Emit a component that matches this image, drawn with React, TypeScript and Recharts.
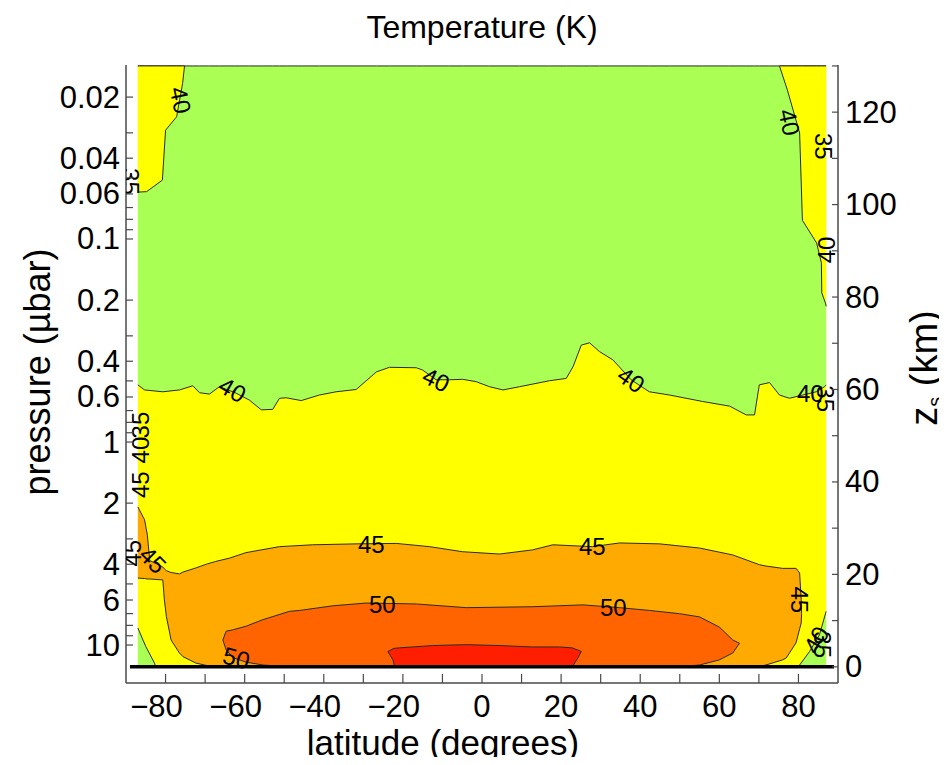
import React from 'react';
import { ComposedChart, Area, Line, Scatter, XAxis, YAxis } from 'recharts';

const FONT = '"Liberation Sans", Arial, Helvetica, sans-serif';
const FRAME = '#4a4a4a';
const CONTOUR = '#2a2a2a';

// axis ticks
const latTicks = [-80, -70, -60, -50, -40, -30, -20, -10, 0, 10, 20, 30, 40, 50, 60, 70, 80];
const latLabels = [-80, -60, -40, -20, 0, 20, 40, 60, 80];
const zTicks = [0, 10, 20, 30, 40, 50, 60, 70, 80, 90, 100, 110, 120, 130];
const zLabels = [0, 20, 40, 60, 80, 100, 120];
const pTicks = [0.02, 0.03, 0.04, 0.05, 0.06, 0.07, 0.08, 0.09, 0.1, 0.2, 0.3, 0.4, 0.5, 0.6, 0.7, 0.8, 0.9, 1, 2, 3, 4, 5, 6, 7, 8, 9, 10];
const pLabels = [0.02, 0.04, 0.06, 0.1, 0.2, 0.4, 0.6, 1, 2, 4, 6, 10];

// region tables: [latitude, lower z (km), upper z (km)]
const fullField = [
  [-87, 0, 130],
  [87, 0, 130],
];

// T < 40 K (upper atmosphere)
const below40 = [
  [-87.0, 61.0, 130], [-85.3, 59.9, 130], [-80.7, 59.5, 130], [-76.5, 59.9, 130], [-73.1, 60.8, 130],
  [-71.4, 59.3, 130], [-68.9, 59.0, 130], [-66.4, 60.6, 130], [-62.4, 59.3, 130], [-58.8, 57.7, 130],
  [-55.8, 55.6, 130], [-52.9, 55.7, 130], [-51.2, 58.1, 130], [-49.5, 58.2, 130], [-45.7, 57.6, 130],
  [-41.1, 58.8, 130], [-36.9, 59.5, 130], [-31.8, 60.0, 130], [-26.7, 63.8, 130], [-23.4, 64.8, 130],
  [-16.6, 64.7, 130], [-15.0, 64.2, 130], [-11.6, 62.1, 130], [-8.2, 62.1, 130], [-4.9, 62.2, 130],
  [-1.5, 61.7, 130], [1.9, 60.6, 130], [5.3, 59.9, 130], [9.5, 60.6, 130], [17.1, 61.9, 130],
  [21.3, 62.4, 130], [23.0, 64.9, 130], [25.1, 69.6, 130], [27.2, 70.1, 130], [29.7, 68.2, 130],
  [33.1, 66.4, 130], [37.7, 62.1, 130], [42.3, 59.5, 130], [47.4, 58.8, 130], [55.8, 57.4, 130],
  [62.6, 56.4, 130], [66.8, 54.5, 130], [68.9, 54.5, 130], [70.1, 61.0, 130], [72.7, 61.5, 130],
  [75.2, 58.8, 130], [77.7, 58.1, 130], [81.1, 58.8, 130], [84.5, 59.5, 130], [86.6, 60.6, 130],
  [87.0, 61.0, 130],
];

// 40-45 K corners at the top
const warmCornerWest = [
  [-87.0, 102.7, 130], [-84.8, 102.8, 130], [-80.8, 105.3, 130], [-80.0, 116.1, 130],
  [-77.2, 119.0, 130], [-75.7, 126.2, 130], [-75.2, 130, 130],
];
const warmCornerEast = [
  [75.2, 130, 130], [77.2, 124.8, 130], [80.3, 115.5, 130], [81.0, 96.6, 130],
  [84.6, 91.7, 130], [85.8, 87.4, 130], [85.9, 80.9, 130], [86.9, 78.5, 130], [87.0, 78.0, 130],
];

// 45-50 K
const band45 = [
  [-87.0, 19.2, 34.6], [-85.3, 19.1, 31.8], [-84.6, 19.0, 28.5], [-84.0, 19.0, 23.0],
  [-80.7, 18.8, 21.6], [-80.3, 14.5, 21.2], [-79.8, 10.9, 20.8], [-78.6, 5.8, 20.4],
  [-76.5, 3.0, 20.1], [-75.6, 2.2, 20.5], [-72.3, 0.8, 21.4], [-69.7, 0.3, 22.2],
  [-67.3, 0, 22.8], [-63.9, 0, 23.5], [-59.7, 0, 24.7], [-51.2, 0, 26.0], [-42.8, 0, 26.4],
  [-31.8, 0, 26.6], [-21.7, 0, 26.7], [-13.3, 0, 26.0], [-4.9, 0, 24.9], [4.4, 0, 24.4],
  [12.8, 0, 25.3], [17.9, 0, 26.4], [27.9, 0, 26.0], [34.8, 0, 26.8], [44.9, 0, 26.6],
  [55.0, 0, 25.7], [63.4, 0, 24.2], [70.1, 0.1, 22.1], [71.8, 0.4, 21.8], [76.0, 1.5, 21.3],
  [76.9, 1.9, 21.3], [79.4, 5.2, 21.3], [80.3, 8.2, 20.3], [80.7, 9.5, 14.5], [80.8, 11.5, 11.5],
];

// 50-55 K
const band50 = [
  [-65.5, 5.8, 5.8], [-64.7, 3.7, 7.7], [-63.0, 2.0, 8.0], [-59.6, 1.0, 8.8], [-55.4, 0.4, 10.2],
  [-48.7, 0, 12.0], [-46.1, 0, 12.2], [-37.7, 0, 13.2], [-29.3, 0, 13.8], [-16.6, 0, 13.6],
  [-4.0, 0, 12.8], [12.8, 0, 13.0], [25.5, 0, 13.4], [34.8, 0, 12.8], [42.3, 0, 12.2],
  [49.9, 0, 11.5], [55.0, 0.4, 10.8], [60.0, 1.5, 8.6], [63.4, 3.0, 5.8], [65.1, 5.1, 5.1],
];

// > 55 K
const band55 = [
  [-23.8, 3.3, 3.3], [-22.5, 1.5, 3.9], [-22.1, 0, 4.0], [-20.9, 0, 4.1], [-12.5, 0, 4.6],
  [-4.0, 0, 4.8], [4.4, 0, 4.6], [12.8, 0, 4.3], [19.6, 0, 4.3], [22.8, 0, 4.1],
  [24.3, 2.0, 3.6], [25.1, 3.3, 3.3],
];

// cold spots near the surface at the poles (< 40 K)
const coldSouth = [[-87.0, 0, 8.4], [-85.0, 0, 4.4], [-82.8, 0, 0.8], [-82.5, 0, 0]];
const coldNorth = [[80.1, 0, 0], [80.3, 0, 0.4], [82.8, 0, 3.3], [85.3, 0, 6.9], [87.0, 0, 12.0]];

const surface = [
  { lat: -89, z: 0 },
  { lat: 89, z: 0 },
];

// contour labels: [latitude, z, text, rotation]
const contourLabels: [number, number, string, number][] = [
  [-76.2, 122.6, '40', 78], [-88.9, 105.0, '35', 90], [77.7, 117.8, '40', 78], [86.3, 112.6, '35', 90],
  [87.0, 90.2, '40', -90], [-63.1, 59.9, '40', 30], [-11.6, 62.1, '40', 25], [37.7, 62.1, '40', 35],
  [83.0, 59.2, '40', 0], [86.8, 58.0, '35', 90], [-86.3, 52.3, '35', -90], [-86.3, 46.9, '40', -90],
  [-86.3, 39.4, '45', -90], [-88.3, 24.6, '45', -90], [-83.2, 23.1, '45', 45], [-28.0, 26.4, '45', 0],
  [27.9, 26.0, '45', 0], [-25.2, 13.4, '50', 0], [33.2, 12.8, '50', 0], [-62.1, 1.9, '50', 15],
  [80.3, 14.5, '45', 90], [84.5, 5.8, '40', -60], [86.1, 4.8, '35', 90],
];

const toRange = (rows: number[][]) => rows.map(([lat, lo, hi]) => ({ lat, r: [lo, hi] }));
const labelData = contourLabels.map(([lat, z, text, angle]) => ({ lat, z, text, angle }));

const regions: { rows: number[][]; fill: string; stroke: string }[] = [
  { rows: fullField, fill: '#ffff00', stroke: 'none' },
  { rows: below40, fill: '#aaff55', stroke: CONTOUR },
  { rows: warmCornerWest, fill: '#ffff00', stroke: CONTOUR },
  { rows: warmCornerEast, fill: '#ffff00', stroke: CONTOUR },
  { rows: band45, fill: '#ffaa00', stroke: CONTOUR },
  { rows: band50, fill: '#ff6400', stroke: CONTOUR },
  { rows: band55, fill: '#ff1e00', stroke: CONTOUR },
  { rows: coldSouth, fill: '#aaff55', stroke: CONTOUR },
  { rows: coldNorth, fill: '#aaff55', stroke: CONTOUR },
];

const TICK_FONT = 31;

const BottomTick = (props: any) => {
  const { x, y, payload } = props;
  const v = payload.value;
  const show = latLabels.includes(v);
  const text = v < 0 ? `\u2212${Math.abs(v)}` : String(v);
  const half = (String(Math.abs(v)).length * 0.556 * TICK_FONT) / 2;
  return (
    <g>
      <line x1={x} y1={y} x2={x} y2={y - 9} stroke={FRAME} strokeWidth={1.2} />
      {show && (
        <text x={x + half} y={y + 23} textAnchor="end" dominantBaseline="central" fontSize={TICK_FONT} fontFamily={FONT} fill="#000">
          {text}
        </text>
      )}
    </g>
  );
};

const TopTick = (props: any) => {
  const { x, y } = props;
  return <line x1={x} y1={y} x2={x} y2={y + 8} stroke={FRAME} strokeWidth={1.2} />;
};

const LeftTick = (props: any) => {
  const { x, y, payload } = props;
  const v = payload.value;
  const show = pLabels.includes(v);
  return (
    <g>
      <line x1={x} y1={y} x2={x + 7} y2={y} stroke={FRAME} strokeWidth={1.2} />
      {show && (
        <text x={x - 6} y={y} textAnchor="end" dominantBaseline="central" fontSize={TICK_FONT} fontFamily={FONT} fill="#000">
          {String(v)}
        </text>
      )}
    </g>
  );
};

const RightTick = (props: any) => {
  const { x, y, payload } = props;
  const v = payload.value;
  const show = zLabels.includes(v);
  return (
    <g>
      <line x1={x} y1={y} x2={x - 6} y2={y} stroke={FRAME} strokeWidth={1.2} />
      {show && (
        <text x={x + 7} y={y} textAnchor="start" dominantBaseline="central" fontSize={TICK_FONT} fontFamily={FONT} fill="#000">
          {String(v)}
        </text>
      )}
    </g>
  );
};

const ContourLabel = (props: any) => {
  const { cx, cy, payload } = props;
  if (cx == null || cy == null) return null;
  return (
    <text
      x={cx}
      y={cy}
      transform={`rotate(${payload.angle} ${cx} ${cy})`}
      textAnchor="middle"
      dominantBaseline="central"
      fontSize={24}
      fontFamily={FONT}
      fill="#000"
    >
      {payload.text}
    </text>
  );
};

export default function App() {
  return (
    <div style={{ width: 939, height: 757, marginTop: -8 }}>
      <style>{`.recharts-surface { overflow: visible !important; } .recharts-wrapper { overflow: visible !important; }`}</style>
      <ComposedChart
        width={931}
        height={757}
        margin={{ top: 65, right: 21, bottom: 34, left: 18 }}
        style={{ overflow: 'visible' }}
      >
        <XAxis
          dataKey="lat"
          type="number"
          domain={[-90, 90]}
          allowDataOverflow
          ticks={latTicks}
          interval={0}
          tickSize={0}
          tickMargin={0}
          tickLine={false}
          tick={<BottomTick />}
          height={40}
          axisLine={{ stroke: FRAME, strokeWidth: 1.5 }}
          label={{
            content: (p: any) => (
              <g>
                <text
                  x={p.viewBox.x + p.viewBox.width / 2 - 39}
                  y={p.viewBox.y + 59}
                  textAnchor="middle"
                  dominantBaseline="central"
                  fontSize={35}
                  fontFamily={FONT}
                  fill="#000"
                >
                  latitude (degrees)
                </text>
                <text
                  x={p.viewBox.x + p.viewBox.width / 2}
                  y={p.viewBox.y - 656}
                  textAnchor="middle"
                  dominantBaseline="central"
                  fontSize={32}
                  fontFamily={FONT}
                  fill="#000"
                >
                  Temperature (K)
                </text>
              </g>
            ),
          }}
        />
        <XAxis
          xAxisId="top"
          orientation="top"
          type="number"
          domain={[-90, 90]}
          allowDataOverflow
          ticks={latTicks}
          interval={0}
          tickSize={0}
          tickMargin={0}
          tickLine={false}
          tick={<TopTick />}
          height={0}
          axisLine={{ stroke: FRAME, strokeWidth: 1.5 }}
        />
        <YAxis
          yAxisId="p"
          orientation="left"
          type="number"
          scale="log"
          domain={[0.0139, 15.38]}
          reversed
          allowDataOverflow
          ticks={pTicks}
          interval={0}
          tickSize={0}
          tickMargin={0}
          tickLine={false}
          tick={<LeftTick />}
          width={100}
          axisLine={{ stroke: FRAME, strokeWidth: 1.5 }}
          label={{
            content: (p: any) => {
              const cx = p.viewBox.x + 11;
              const cy = p.viewBox.y + p.viewBox.height / 2 - 2;
              return (
                <text
                  x={cx}
                  y={cy}
                  transform={`rotate(-90 ${cx} ${cy})`}
                  textAnchor="middle"
                  dominantBaseline="central"
                  fontSize={36}
                  fontFamily={FONT}
                  fill="#000"
                >
                  pressure (µbar)
                </text>
              );
            },
          }}
        />
        <YAxis
          yAxisId="z"
          orientation="right"
          dataKey="z"
          type="number"
          domain={[-3.5, 130.2]}
          allowDataOverflow
          ticks={zTicks}
          interval={0}
          tickSize={0}
          tickMargin={0}
          tickLine={false}
          tick={<RightTick />}
          width={80}
          axisLine={{ stroke: FRAME, strokeWidth: 1.5 }}
          label={{
            content: (p: any) => {
              const cx = p.viewBox.x + 86;
              const cy = p.viewBox.y + p.viewBox.height / 2 - 6;
              return (
                <text
                  x={cx}
                  y={cy}
                  transform={`rotate(-90 ${cx} ${cy})`}
                  textAnchor="middle"
                  dominantBaseline="central"
                  fontSize={38}
                  fontFamily={FONT}
                  fill="#000"
                >
                  z
                  <tspan fontSize={20} dy={11}>s</tspan>
                  <tspan dy={-11}> (km)</tspan>
                </text>
              );
            },
          }}
        />
        {regions.map((reg, i) => (
          <Area
            key={`reg-${i}`}
            yAxisId="z"
            data={toRange(reg.rows)}
            dataKey="r"
            type="linear"
            fill={reg.fill}
            fillOpacity={1}
            stroke={reg.stroke}
            strokeWidth={1}
            isAnimationActive={false}
            dot={false}
            activeDot={false}
          />
        ))}
        <Line
          yAxisId="z"
          data={surface}
          dataKey="z"
          stroke="#000"
          strokeWidth={3.5}
          dot={false}
          activeDot={false}
          isAnimationActive={false}
        />
        <Scatter yAxisId="z" data={labelData} shape={<ContourLabel />} isAnimationActive={false} />
      </ComposedChart>
    </div>
  );
}
